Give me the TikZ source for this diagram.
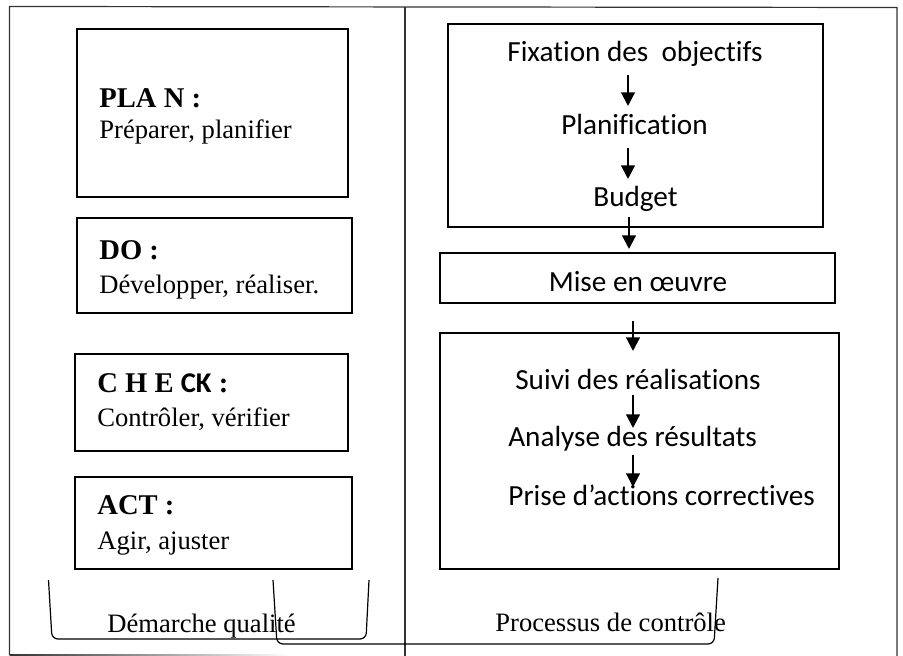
\documentclass[tikz,border=0pt]{standalone}
\usepackage{fontspec}
\setmainfont{Liberation Serif}
\newfontfamily\calibri[Ligatures=NoCommon]{Carlito}
\usetikzlibrary{arrows.meta}
\begin{document}
\begin{tikzpicture}[x=0.5pt,y=-0.5pt,
  frameline/.style={line width=0.6pt, draw=black!80},
  box/.style={draw, line width=1.3pt, inner sep=0pt},
  lhead/.style={anchor=base west, inner sep=0pt, font=\bfseries\fontsize{14.3}{17}\selectfont},
  lbody/.style={anchor=base west, inner sep=0pt, font=\fontsize{13.3}{16}\selectfont},
  rtext/.style={anchor=base, inner sep=0pt, font=\calibri\fontsize{14.6}{17}\selectfont},
  flow/.style={-{Triangle[width=6.8pt,length=6.8pt]}, line width=1.1pt},
  bracketline/.style={line width=0.6pt, rounded corners=3pt}
]
\useasboundingbox (0,0) rectangle (903,656);

% outer frame
\draw[frameline] (9.5,655) -- (9.5,6.5) -- (897,7.5) -- (897,656);
\draw[frameline] (405,7) -- (405,656);
\shade[left color=black!80, right color=white] (9.5,654.3) rectangle (290,655.7);

% left boxes
\node[box, minimum width=135.5pt, minimum height=84pt] (plan) at (212.5,113) {};
\node[box, minimum width=137.5pt, minimum height=47.5pt] (do) at (214.5,265.5) {};
\node[box, minimum width=136.5pt, minimum height=48.5pt] (check) at (211.5,402.5) {};
\node[box, minimum width=138.5pt, minimum height=46pt] (act) at (213.5,523) {};

\node[lhead] (planh) at (99,108) {PLA N :};
\node[lbody] (planb) at (99,139) {Préparer, planifier};
\node[lhead] (doh) at (99,260) {DO :};
\node[lbody] (dob) at (99,294) {Développer, réaliser.};
\node[lhead] (checkh) at (97,393) {C H E {\calibri CK} :};
\node[lbody] (checkb) at (97,427) {Contrôler, vérifier};
\node[lhead] (acth) at (97,515) {ACT :};
\node[lbody] (actb) at (97,549) {Agir, ajuster};

% right boxes
\node[box, minimum width=187.5pt, minimum height=101.5pt] (prep) at (635.5,125.5) {};
\node[box, minimum width=197.5pt, minimum height=25pt] (mise) at (637.5,278) {};
\node[box, minimum width=199.5pt, minimum height=118pt] (ctrl) at (639.5,451) {};

\node[rtext] (fix) at (635,62) {Fixation des \ objectifs};
\node[rtext] (plf) at (634.5,135) {Planification};
\node[rtext] (bud) at (635.5,207) {Budget};
\node[rtext] (mis) at (638,292) {Mise en œuvre};
\node[rtext] (suivi) at (638,390) {Suivi des réalisations};
\node[rtext] (ana) at (632.5,447) {Analyse des résultats};
\node[rtext, anchor=base west] (prise) at (508,506) {Prise d’actions correctives};

% arrows
\coordinate (a1s) at (628,75);  \coordinate (a1e) at (628,106);
\coordinate (a2s) at (628,148); \coordinate (a2e) at (628,179);
\coordinate (a3s) at (629,217); \coordinate (a3e) at (629,249);
\coordinate (a4s) at (633,321); \coordinate (a4e) at (633,351);
\coordinate (a5s) at (633,395); \coordinate (a5e) at (633,428);
\coordinate (a6s) at (633,455); \coordinate (a6e) at (633,487);
\draw[flow] (a1s) -- (a1e);
\draw[flow] (a2s) -- (a2e);
\draw[flow] (a3s) -- (a3e);
\draw[flow] (a4s) -- (a4e);
\draw[flow] (a5s) -- (a5e);
\draw[flow] (a6s) -- (a6e);

% brackets and labels
\draw[bracketline] (48.5,580) -- (52,639) -- (366,639) -- (369,580);
\draw[bracketline] (273,580) -- (277,644) -- (714,644) -- (718,578);
\node[lbody] (dq) at (107,632) {Démarche qualité};
\node[lbody] (pc) at (495,631) {Processus de contrôle};
\end{tikzpicture}
\end{document}
